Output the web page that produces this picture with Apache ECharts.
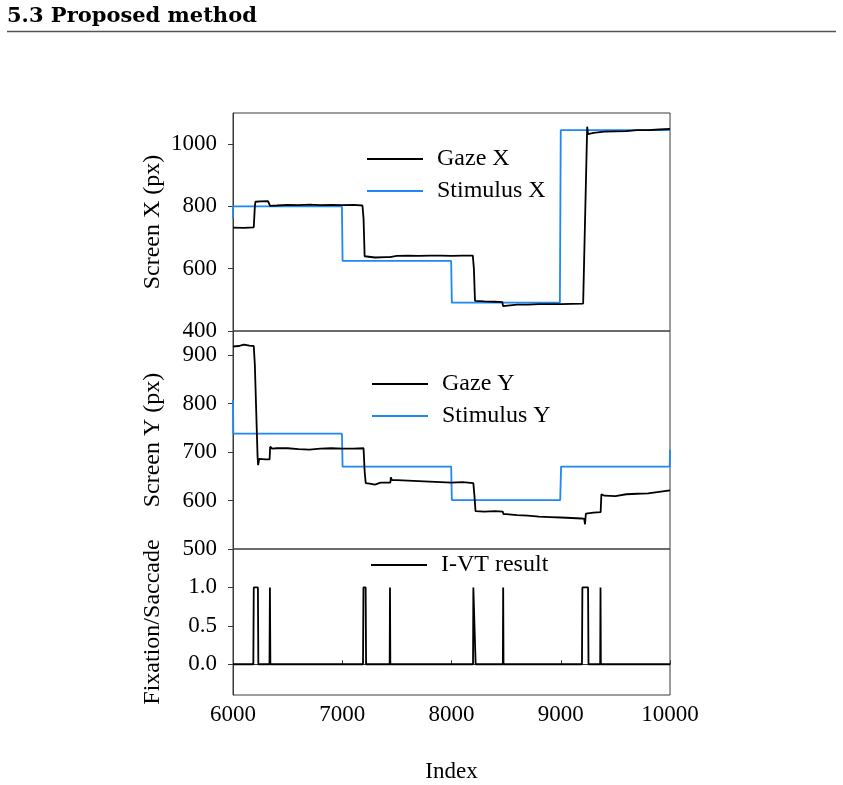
<!DOCTYPE html>
<html lang="en">
<head>
    <meta charset="UTF-8">
    <title>Gaze vs stimulus</title>
    <script src="https://cdn.jsdelivr.net/npm/echarts@6/dist/echarts.min.js"></script>
    <style>
        html, body { margin: 0; padding: 0; background: #fff; }
        #main { width: 843px; height: 785px; }
    </style>
</head>
<body>
<div id="main"></div>
<script>
    // 数据 [index, value]
    var gazeX = [[6000,732],[6100,731],[6190,733],[6200,800],[6205,815],[6250,816],[6320,817],[6335,815],[6340,802],
        [6400,803],[6500,805],[6600,804],[6700,806],[6800,804],[6900,805],[7000,804],[7100,805],[7185,803],
        [7195,760],[7205,640],[7210,634],[7300,636],[7400,637],[7436,637],[7440,641],[7500,641],[7600,642],
        [7700,641],[7800,642],[7900,642],[8000,641],[8100,642],[8195,642],[8205,600],[8215,497],[8230,494],
        [8300,495],[8400,494],[8465,493],[8472,480],[8480,486],[8600,485],[8700,485],[8800,486],[8900,486],
        [9000,486],[9100,487],[9205,488],[9242,1056],[9250,1032],[9300,1036],[9400,1040],[9500,1041],
        [9600,1042],[9700,1045],[9800,1045],[9900,1047],[10000,1049]];
    var stimulusX = [[6000,762],[6001,800],[6997,800],[7003,625],[7997,625],[8003,491],[8992,491],[9000,1045],[10000,1045]];

    var gazeY = [[6000,918],[6050,919],[6100,922],[6150,920],[6190,919],[6200,880],[6225,690],[6230,673],[6240,686],
        [6300,685],[6335,685],[6340,711],[6360,707],[6400,708],[6500,708],[6600,706],[6700,705],[6800,707],
        [6900,708],[7000,707],[7100,707],[7195,708],[7205,660],[7215,636],[7250,635],[7300,633],[7350,637],
        [7440,637],[7445,648],[7455,642],[7500,642],[7600,641],[7700,640],[7800,639],[7900,638],[8000,637],
        [8100,638],[8200,636],[8210,610],[8220,578],[8300,577],[8400,578],[8470,577],[8475,572],[8500,572],
        [8600,570],[8700,569],[8800,567],[8900,566],[9000,565],[9100,564],[9190,563],[9215,562],[9222,551],
        [9230,573],[9300,575],[9365,576],[9372,613],[9400,610],[9500,609],[9600,613],[9700,614],[9800,615],
        [9900,618],[10000,621]];
    var stimulusY = [[6000,807],[6003,738],[6997,738],[7003,670],[7997,670],[8003,601],[8995,601],[9003,670],[9997,670],[10000,705]];

    var ivt = [[6000,0],[6186,0],[6190,1],[6228,1],[6232,0],[6334,0],[6338,1],[6342,0],[7190,0],[7194,1],
        [7214,1],[7218,0],[7434,0],[7437,1],[7440,0],[8197,0],[8200,1],[8217,1],[8221,0],[8470,0],
        [8473,1],[8476,0],[9194,0],[9198,1],[9250,1],[9254,0],[9361,0],[9364,1],[9367,0],[10000,0]];

    var xTicks = [6000, 7000, 8000, 9000, 10000];
    var yTicksX = [400, 600, 800, 1000];
    var yTicksY = [500, 600, 700, 800, 900];
    var yTicksIvt = [0, 0.5, 1];

    var serif = 'Liberation Serif';
    var frame = '#3a3a3a';
    var blue = '#1e88f5';

    function plain(v) { return String(v); }

    function yAxisCfg(idx, min, max, ticks, name, fmt) {
        return {
            type: 'value', gridIndex: idx, min: min, max: max,
            name: name, nameLocation: 'middle', nameGap: 68, nameMoveOverlap: false,
            nameTextStyle: { fontFamily: serif, fontSize: 24, color: '#000' },
            splitLine: { show: false },
            axisLine: { show: true, lineStyle: { color: frame } },
            axisTick: { show: true, inside: false, length: 5, customValues: ticks, lineStyle: { color: frame } },
            axisLabel: { customValues: ticks, margin: 16, fontFamily: serif, fontSize: 23, color: '#000', formatter: fmt || plain }
        };
    }
    function xAxisCfg(idx, withLabels) {
        return {
            type: 'value', gridIndex: idx, min: 6000, max: 10000,
            name: withLabels ? 'Index' : '', nameLocation: 'middle', nameGap: 65,
            nameTextStyle: { fontFamily: serif, fontSize: 23, color: '#000' },
            splitLine: { show: false },
            axisLine: { show: withLabels, lineStyle: { color: frame } },
            axisTick: { show: withLabels, inside: true, length: 4, customValues: xTicks, lineStyle: { color: frame } },
            axisLabel: { show: withLabels, customValues: xTicks, margin: 8, fontFamily: serif, fontSize: 23, color: '#000', formatter: plain }
        };
    }
    function line(name, data, color, xi) {
        return {
            name: name, type: 'line', data: data, xAxisIndex: xi, yAxisIndex: xi,
            symbol: 'none', showSymbol: false, animation: false,
            lineStyle: { color: color, width: 1.8 }, itemStyle: { color: color }
        };
    }
    function legendCfg(names, left, top) {
        return {
            data: names, orient: 'vertical', left: left, top: top,
            icon: 'rect', itemWidth: 56, itemHeight: 2, itemGap: 8, padding: 0,
            textStyle: { fontFamily: serif, fontSize: 24, color: '#000', lineHeight: 22, padding: [0, 0, 0, 9] }
        };
    }

    var myChart = echarts.init(document.getElementById('main'));
    var option = {
        animation: false,
        title: {
            text: '5.3 Proposed method', left: 7, top: 6, padding: 0,
            textStyle: { fontFamily: 'DejaVu Serif', fontWeight: 'bold', fontSize: 21, color: '#000' }
        },
        graphic: [{
            type: 'line', shape: { x1: 7, y1: 31.5, x2: 836, y2: 31.5 },
            style: { stroke: '#555', lineWidth: 1.5 }
        }],
        grid: [
            { left: 233, top: 113, width: 437, height: 218, show: true, borderColor: frame, borderWidth: 1 },
            { left: 233, top: 331, width: 437, height: 218, show: true, borderColor: frame, borderWidth: 1 },
            { left: 233, top: 549, width: 437, height: 146, show: true, borderColor: frame, borderWidth: 1 }
        ],
        xAxis: [xAxisCfg(0, false), xAxisCfg(1, false), xAxisCfg(2, true)],
        yAxis: [
            yAxisCfg(0, 400, 1100, yTicksX, 'Screen X (px)'),
            yAxisCfg(1, 500, 950, yTicksY, 'Screen Y (px)'),
            yAxisCfg(2, -0.4, 1.5, yTicksIvt, 'Fixation/Saccade', function (v) { return v.toFixed(1); })
        ],
        legend: [
            legendCfg(['Gaze X', 'Stimulus X'], 367, 147),
            legendCfg(['Gaze Y', 'Stimulus Y'], 372, 372),
            legendCfg(['I-VT result'], 371, 553)
        ],
        series: [
            line('Stimulus X', stimulusX, blue, 0),
            line('Gaze X', gazeX, '#000', 0),
            line('Stimulus Y', stimulusY, blue, 1),
            line('Gaze Y', gazeY, '#000', 1),
            line('I-VT result', ivt, '#000', 2)
        ]
    };
    myChart.setOption(option);
</script>
</body>
</html>
